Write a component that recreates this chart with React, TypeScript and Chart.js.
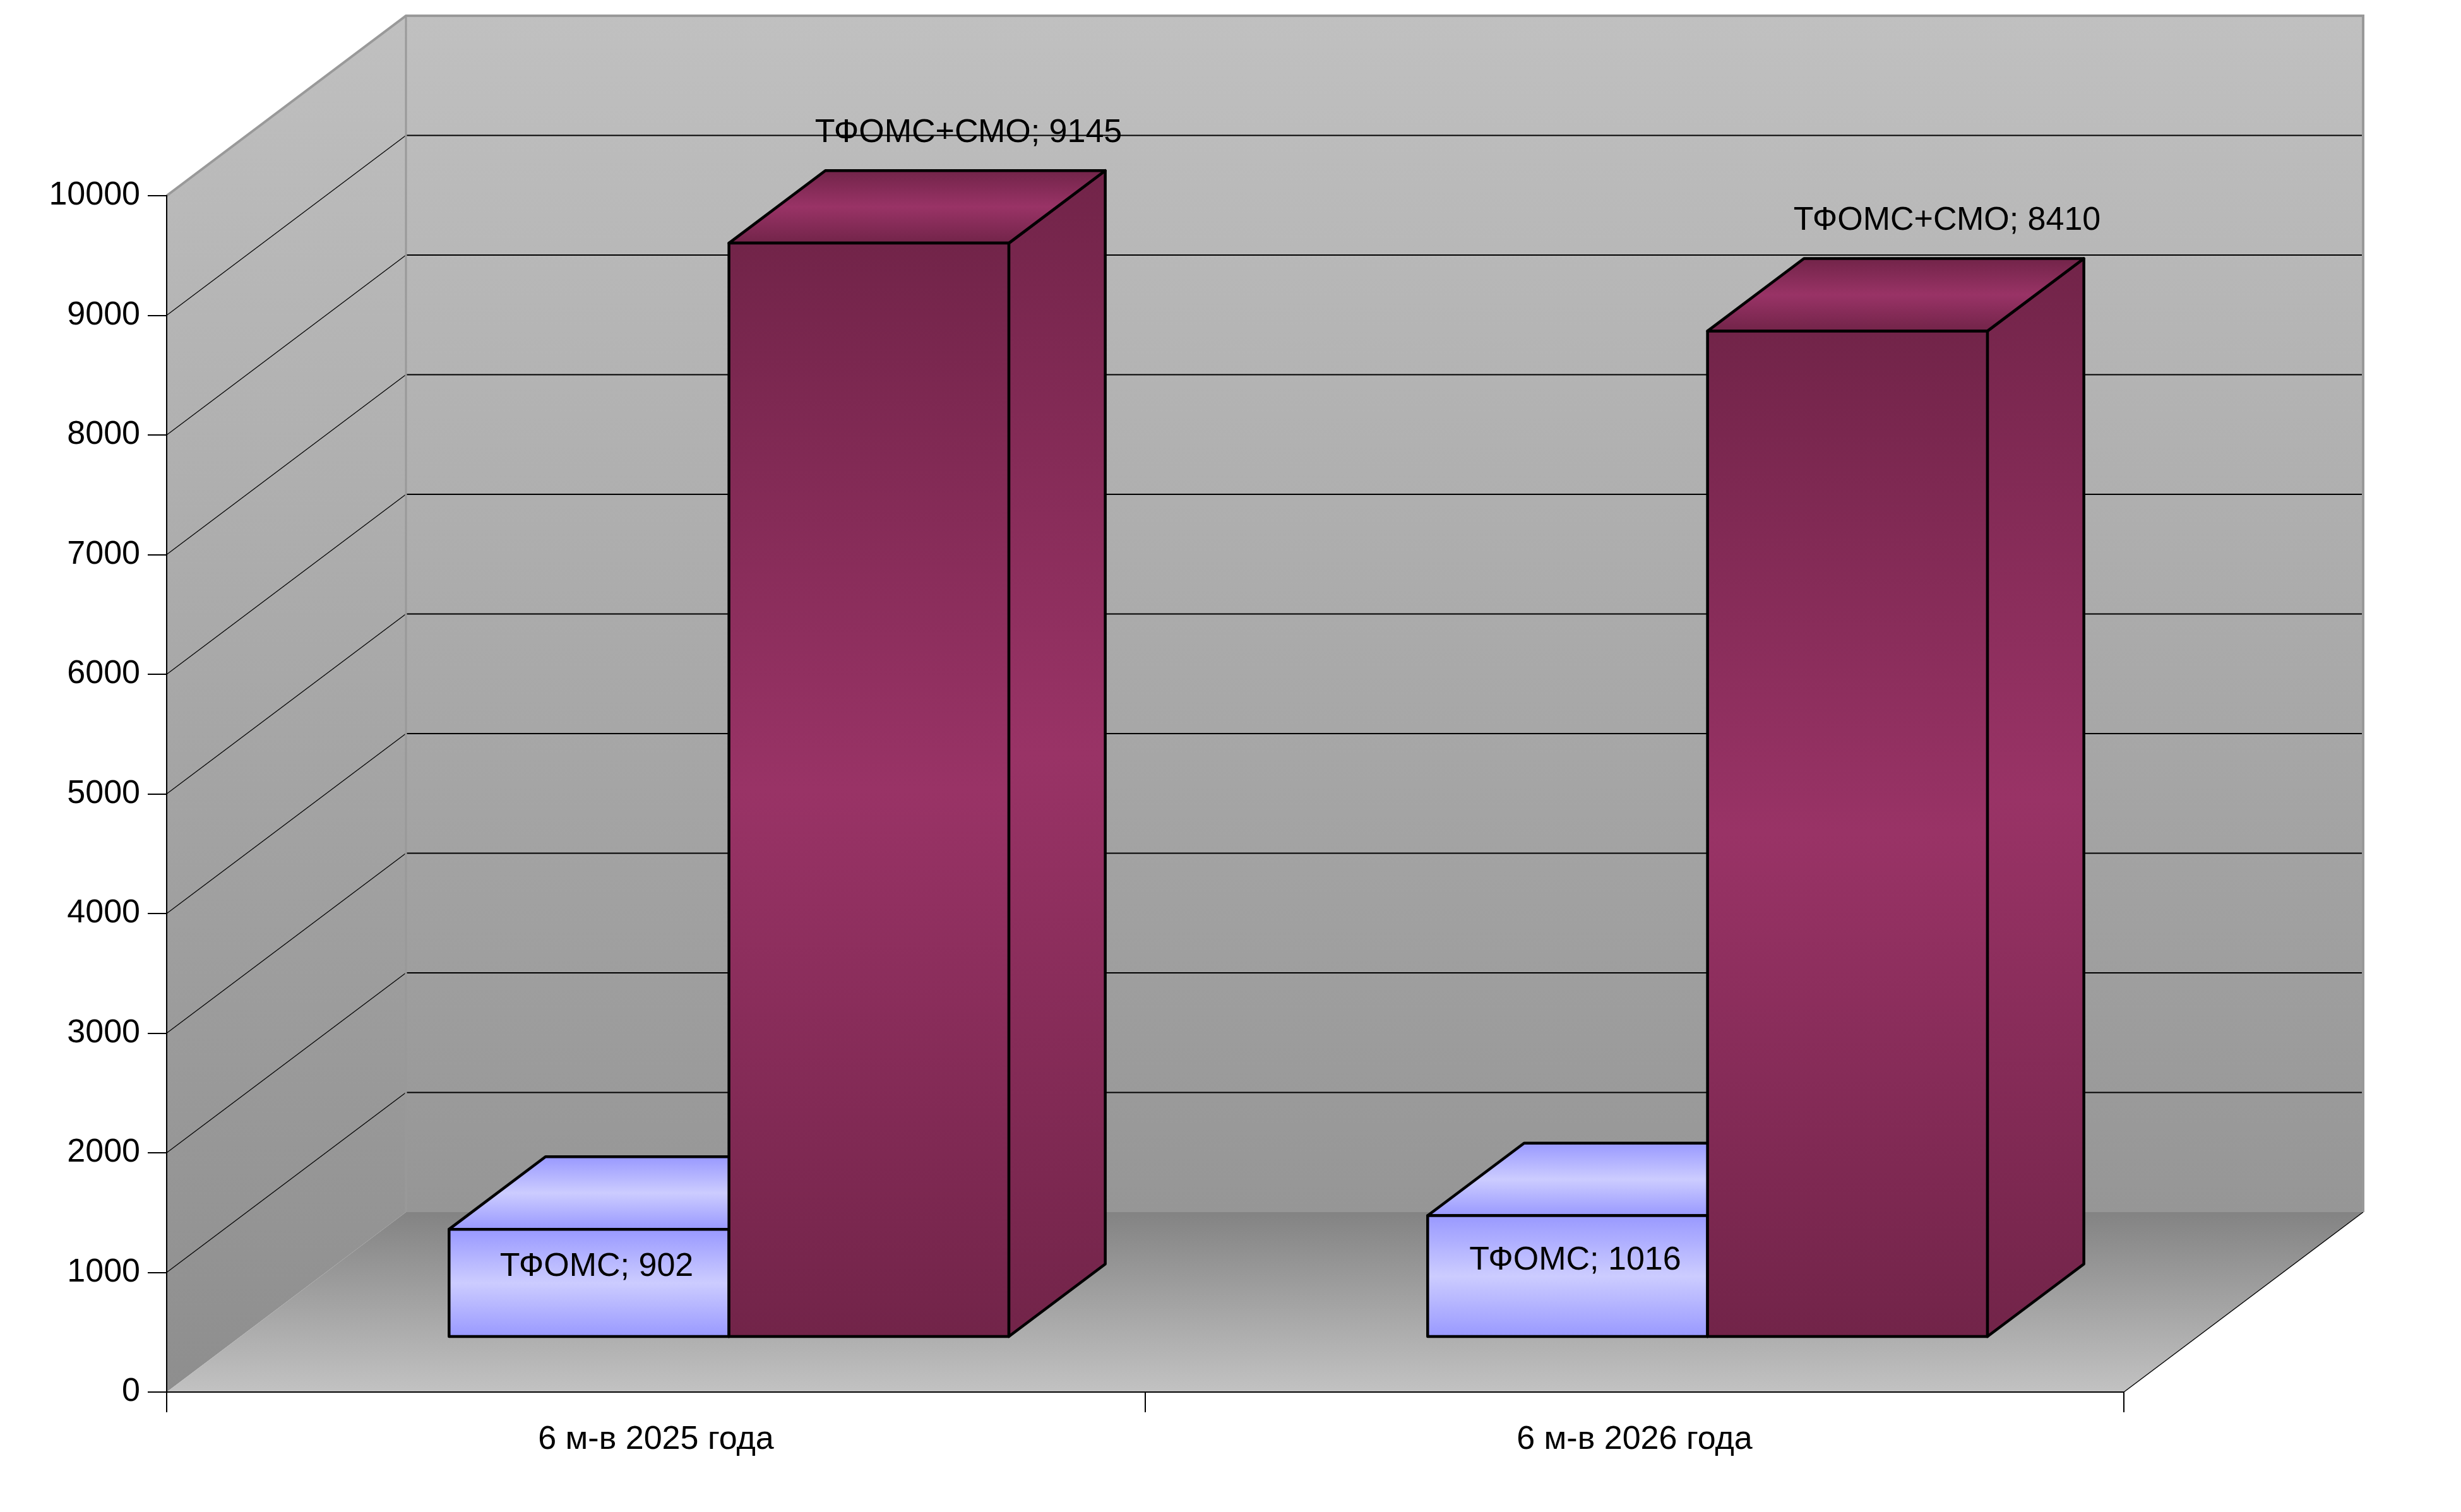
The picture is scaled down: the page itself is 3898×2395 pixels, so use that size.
import { useEffect, useRef } from "react";
import { Chart, registerables } from "chart.js";
Chart.register(...registerables);

const categories = ["6 м-в 2025 года", "6 м-в 2026 года"];
const seriesNames = ["ТФОМС", "ТФОМС+СМО"];
const tfomsValues = [902, 1016];
const tfomsSmoValues = [9145, 8410];
const yTicks = [0, 1000, 2000, 3000, 4000, 5000, 6000, 7000, 8000, 9000, 10000];

// oblique depth of the 3d box, and where the bars sit inside it
const DX = 379;
const DY = 285;
const BAR_FRONT = 0.305;
const BAR_BACK = 0.708;

const FONT_FAMILY = "'Liberation Sans', Arial, sans-serif";
const FONT = { family: FONT_FAMILY, size: 52 };

const barColors = [
  { dark: "#9999ff", light: "#ccccff" },
  { dark: "#722449", light: "#993366" },
];

const vGrad = (ctx: CanvasRenderingContext2D, y0: number, y1: number, dark: string, light: string) => {
  const g = ctx.createLinearGradient(0, y0, 0, y1);
  g.addColorStop(0, dark);
  g.addColorStop(0.5, light);
  g.addColorStop(1, dark);
  return g;
};

const poly = (ctx: CanvasRenderingContext2D, pts: number[][], fill: any) => {
  ctx.beginPath();
  ctx.moveTo(pts[0][0], pts[0][1]);
  for (let i = 1; i < pts.length; i++) ctx.lineTo(pts[i][0], pts[i][1]);
  ctx.closePath();
  ctx.fillStyle = fill;
  ctx.fill();
  ctx.stroke();
};

const box3d = {
  id: "box3d",
  beforeDraw(chart: any) {
    const { ctx, chartArea: a } = chart;
    const ys = chart.scales.y;
    ctx.save();

    // back wall
    let g = ctx.createLinearGradient(0, a.top - DY, 0, a.bottom - DY);
    g.addColorStop(0, "#c0c0c0");
    g.addColorStop(1, "#969696");
    ctx.fillStyle = g;
    ctx.fillRect(a.left + DX, a.top - DY, a.right - a.left, a.bottom - a.top);

    // left wall
    g = ctx.createLinearGradient(0, a.top - DY, 0, a.bottom);
    g.addColorStop(0, "#c0c0c0");
    g.addColorStop(1, "#8e8e8e");
    ctx.fillStyle = g;
    ctx.beginPath();
    ctx.moveTo(a.left, a.top);
    ctx.lineTo(a.left + DX, a.top - DY);
    ctx.lineTo(a.left + DX, a.bottom - DY);
    ctx.lineTo(a.left, a.bottom);
    ctx.closePath();
    ctx.fill();

    // floor
    g = ctx.createLinearGradient(0, a.bottom - DY, 0, a.bottom);
    g.addColorStop(0, "#838383");
    g.addColorStop(1, "#c2c2c2");
    ctx.fillStyle = g;
    ctx.beginPath();
    ctx.moveTo(a.left, a.bottom);
    ctx.lineTo(a.right, a.bottom);
    ctx.lineTo(a.right + DX, a.bottom - DY);
    ctx.lineTo(a.left + DX, a.bottom - DY);
    ctx.closePath();
    ctx.fill();

    // floor right edge
    ctx.strokeStyle = "#000";
    ctx.lineWidth = 1.5;
    ctx.beginPath();
    ctx.moveTo(a.right, a.bottom);
    ctx.lineTo(a.right + DX, a.bottom - DY);
    ctx.stroke();

    // grid lines on back and left walls
    ys.ticks.forEach((t: any) => {
      if (t.value <= ys.min || t.value >= ys.max) return;
      const py = ys.getPixelForValue(t.value);
      ctx.lineWidth = 2;
      ctx.beginPath();
      ctx.moveTo(a.left + DX, py - DY);
      ctx.lineTo(a.right + DX, py - DY);
      ctx.stroke();
      ctx.lineWidth = 1.2;
      ctx.beginPath();
      ctx.moveTo(a.left, py);
      ctx.lineTo(a.left + DX, py - DY);
      ctx.stroke();
    });

    // wall borders
    ctx.strokeStyle = "#999999";
    ctx.lineWidth = 4;
    ctx.lineJoin = "miter";
    ctx.beginPath();
    ctx.moveTo(a.left, a.top);
    ctx.lineTo(a.left + DX, a.top - DY);
    ctx.lineTo(a.right + DX, a.top - DY);
    ctx.lineTo(a.right + DX, a.bottom - DY);
    ctx.stroke();
    ctx.lineWidth = 3;
    ctx.beginPath();
    ctx.moveTo(a.left + DX, a.top - DY);
    ctx.lineTo(a.left + DX, a.bottom - DY);
    ctx.stroke();

    ctx.restore();
  },
  beforeDatasetsDraw(chart: any) {
    const { ctx } = chart;
    const fx = BAR_FRONT * DX, fy = BAR_FRONT * DY;
    const bx = BAR_BACK * DX, by = BAR_BACK * DY;
    const labels: { text: string; x: number; y: number }[] = [];
    ctx.save();
    ctx.strokeStyle = "#000";
    ctx.lineWidth = 4.5;
    ctx.lineJoin = "round";
    categories.forEach((_, i) => {
      chart.data.datasets.forEach((ds: any, d: number) => {
        const el = chart.getDatasetMeta(d).data[i];
        const l = el.x - el.width / 2;
        const r = el.x + el.width / 2;
        const top = el.y;
        const bot = el.base;
        const c = barColors[d];
        // right side
        poly(ctx, [[r + fx, top - fy], [r + bx, top - by], [r + bx, bot - by], [r + fx, bot - fy]],
          vGrad(ctx, top - by, bot - fy, c.dark, c.light));
        // top
        poly(ctx, [[l + fx, top - fy], [r + fx, top - fy], [r + bx, top - by], [l + bx, top - by]],
          vGrad(ctx, top - by, top - fy, c.dark, c.light));
        // front
        poly(ctx, [[l + fx, top - fy], [r + fx, top - fy], [r + fx, bot - fy], [l + fx, bot - fy]],
          vGrad(ctx, top - fy, bot - fy, c.dark, c.light));
        const text = ds.label + "; " + ds.data[i];
        if (d === 0) {
          labels.push({ text, x: el.x + fx + 12, y: (top + bot) / 2 - fy - 25 });
        } else {
          labels.push({ text, x: el.x + bx + 5, y: top - by - 60 });
        }
      });
    });
    ctx.fillStyle = "#000";
    ctx.font = `${FONT.size}px ${FONT_FAMILY}`;
    ctx.textAlign = "center";
    ctx.textBaseline = "middle";
    labels.forEach((lb) => ctx.fillText(lb.text, lb.x, lb.y));
    ctx.restore();
    return false;
  },
};

const App = () => {
  const canvasRef = useRef<HTMLCanvasElement>(null);
  const chartRef = useRef<Chart | null>(null);

  useEffect(() => {
    if (chartRef.current) {
      chartRef.current.destroy();
      chartRef.current = null;
    }
    chartRef.current = new Chart(canvasRef.current!, {
      type: "bar",
      data: {
        labels: categories,
        datasets: [
          { label: seriesNames[0], data: tfomsValues, backgroundColor: barColors[0].light },
          { label: seriesNames[1], data: tfomsSmoValues, backgroundColor: barColors[1].light },
        ],
      },
      options: {
        responsive: false,
        animation: false,
        devicePixelRatio: 1,
        layout: { padding: { left: 0, top: 310, right: 534, bottom: 0 } },
        datasets: { bar: { categoryPercentage: 0.572, barPercentage: 1 } },
        plugins: { legend: { display: false }, tooltip: { enabled: false } },
        scales: {
          x: {
            afterFit: (s: any) => {
              s.height = 190;
            },
            grid: { offset: true, drawOnChartArea: false, drawTicks: true, tickLength: 32, color: "#000", lineWidth: 2 },
            border: { display: true, color: "#000", width: 2 },
            ticks: { font: FONT, color: "#000", padding: 12 },
          },
          y: {
            min: yTicks[0],
            max: yTicks[yTicks.length - 1],
            afterFit: (s: any) => {
              s.width = 264;
            },
            grid: { drawOnChartArea: false, drawTicks: true, tickLength: 30, color: "#000", lineWidth: 2 },
            border: { display: true, color: "#000", width: 2 },
            ticks: {
              stepSize: yTicks[1] - yTicks[0],
              font: FONT,
              color: "#000",
              padding: 12,
              callback: (v: any) => String(v),
            },
          },
        },
      } as any,
      plugins: [box3d as any],
    });
    return () => {
      if (chartRef.current) {
        chartRef.current.destroy();
        chartRef.current = null;
      }
    };
  }, []);

  return (
    <div style={{ position: "absolute", left: 0, top: 0, width: 3898, height: 2395, background: "#fff" }}>
      <canvas ref={canvasRef} width={3898} height={2395} style={{ width: 3898, height: 2395 }} />
    </div>
  );
};

export default App;
